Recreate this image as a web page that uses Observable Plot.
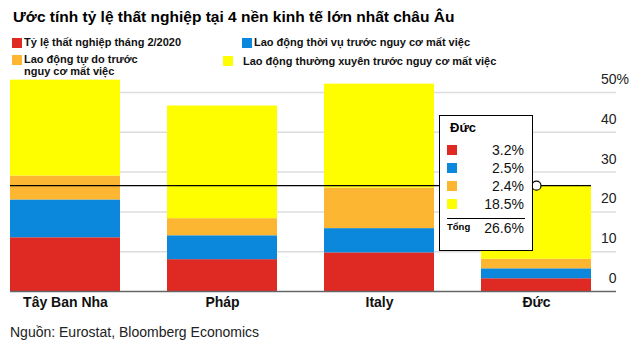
<!DOCTYPE html>
<html><head><meta charset="utf-8">
<script src="https://cdn.jsdelivr.net/npm/d3@7"></script>
<script src="https://cdn.jsdelivr.net/npm/@observablehq/plot@0.6"></script>
<style>
body{margin:0;width:640px;height:352px;position:relative;overflow:hidden;font-family:"Liberation Sans",Arial,Helvetica,sans-serif;background:#fff;color:#000}
.abs{position:absolute;white-space:nowrap}
#title{left:13px;top:8px;font-size:15.5px;font-weight:bold;line-height:18px}
.leg{font-size:11px;font-weight:bold;line-height:11.5px;color:#111}
.sw{position:absolute;width:10px;height:10px}
#chart{position:absolute;left:0;top:70px}
#tipbox{position:absolute;left:439px;top:115px;width:94px;height:136px;border:1.5px solid #000;background:#fff;box-sizing:border-box}
#source{left:10px;top:324px;font-size:14px;line-height:16px;color:#222}
</style></head>
<body>
<div id="title" class="abs">Ước tính tỷ lệ thất nghiệp tại 4 nền kinh tế lớn nhất châu Âu</div>
<div id="legend"></div>
<div id="chart"></div>
<div id="tip"></div>
<div id="source" class="abs">Nguồn: Eurostat, Bloomberg Economics</div>
<script>
const countries = ["Tây Ban Nha", "Pháp", "Italy", "Đức"];
const series = [
  "Tỷ lệ thất nghiệp tháng 2/2020",
  "Lao động thời vụ trước nguy cơ mất việc",
  "Lao động tự do trước nguy cơ mất việc",
  "Lao động thường xuyên trước nguy cơ mất việc"
];
const colors = ["#de2a22", "#0b88db", "#fcb632", "#fefe00"];
const unemployment = [13.5, 8.0, 9.7, 3.2];
const temporary = [9.5, 6.0, 6.1, 2.5];
const selfEmployed = [6.0, 4.3, 10.2, 2.4];
const permanent = [24.1, 28.3, 26.1, 18.5];
const yTicks = [0, 10, 20, 30, 40, 50];
const highlight = "Đức";
const tipTotalLabel = "Tổng";

const seriesValues = [unemployment, temporary, selfEmployed, permanent];
const rows = [];
countries.forEach((c, i) => {
  seriesValues.forEach((vals, s) => rows.push({country: c, series: series[s], value: vals[i]}));
});
const hi = countries.indexOf(highlight);
const hiVals = seriesValues.map(v => v[hi]);
const total = +d3.sum(hiVals).toFixed(1);

// Legend (HTML)
const legendItems = [
  {s: 0, sx: 12, sy: 38, tx: 24, ty: 36.5, html: series[0]},
  {s: 1, sx: 242, sy: 38, tx: 254, ty: 36.5, html: series[1]},
  {s: 2, sx: 12, sy: 55, tx: 24, ty: 54, html: "Lao động tự do trước<br>nguy cơ mất việc"},
  {s: 3, sx: 223, sy: 56, tx: 243, ty: 56, html: series[3]}
];
const leg = document.getElementById("legend");
legendItems.forEach(it => {
  const sw = document.createElement("div");
  sw.className = "sw"; sw.style.left = it.sx + "px"; sw.style.top = it.sy + "px"; sw.style.background = colors[it.s];
  leg.appendChild(sw);
  const t = document.createElement("div");
  t.className = "abs leg"; t.style.left = it.tx + "px"; t.style.top = it.ty + "px"; t.innerHTML = it.html;
  leg.appendChild(t);
});

const chart = Plot.plot({
  width: 640, height: 250,
  marginTop: 22, marginBottom: 29, marginLeft: 10, marginRight: 24,
  x: {domain: countries, paddingInner: 0.3, paddingOuter: 0.0764, align: 0, axis: null},
  y: {domain: [0, 50], axis: null},
  color: {domain: series, range: colors},
  style: {fontFamily: "'Liberation Sans', Arial, sans-serif", background: "transparent", overflow: "visible"},
  marks: [
    Plot.ruleY(yTicks.filter(d => d > 0), {stroke: "#dcdcdc", strokeWidth: 1.5}),
    Plot.barY(rows, {x: "country", y: "value", fill: "series"}),
    Plot.ruleY([0], {stroke: "#666", strokeWidth: 1.5}),
    Plot.ruleY([total], {x1: () => countries[0], x2: () => highlight, stroke: "#000", strokeWidth: 1.2}),
    Plot.dot([{country: highlight, total}], {x: "country", y: "total", r: 4.5, fill: "white", stroke: "black", strokeWidth: 1.2}),
    Plot.text(yTicks, {y: d => d, text: d => String(d), frameAnchor: "right", textAnchor: "end", dy: -13, fontSize: 14, fill: "#222"}),
    Plot.text([yTicks[yTicks.length - 1]], {y: d => d, text: () => "%", frameAnchor: "right", textAnchor: "start", dy: -13, fontSize: 14, fill: "#222"}),
    Plot.text(countries, {x: d => d, text: d => d, frameAnchor: "bottom", dy: 15, fontSize: 14, fontWeight: "bold", fill: "#111"})
  ]
});
document.getElementById("chart").appendChild(chart);

// Tooltip box (HTML annotation)
const tip = document.getElementById("tip");
let h = `<div id="tipbox"></div>`;
h += `<div class="abs" style="left:450px;top:120px;font-size:13px;font-weight:bold;line-height:16px">${highlight}</div>`;
hiVals.forEach((v, k) => {
  const cy = 150 + k * 18;
  h += `<div class="sw" style="left:447px;top:${cy - 5}px;background:${colors[k]}"></div>`;
  h += `<div class="abs" style="right:116px;top:${cy - 8}px;font-size:14px;line-height:16px;color:#111">${v.toFixed(1)}%</div>`;
});
h += `<div class="abs" style="left:447px;top:217.5px;width:78px;height:1px;background:#000"></div>`;
h += `<div class="abs" style="left:447px;top:221px;font-size:9.5px;font-weight:bold;line-height:12px">${tipTotalLabel}</div>`;
h += `<div class="abs" style="right:116px;top:220px;font-size:14px;line-height:16px;color:#111">${total.toFixed(1)}%</div>`;
tip.innerHTML = h;
</script>
</body></html>
